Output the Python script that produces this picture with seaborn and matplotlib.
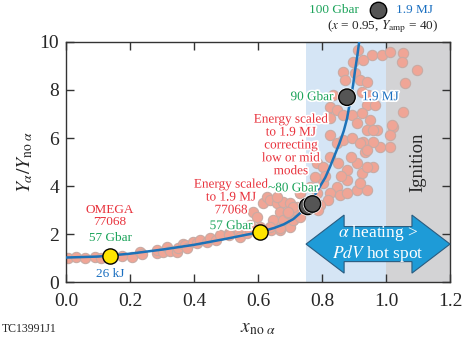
import numpy as np
import pandas as pd
import matplotlib
matplotlib.use("Agg")
import matplotlib.pyplot as plt
import matplotlib.patheffects as pe
from matplotlib.patches import Polygon
import seaborn as sns

# scatter of simulated implosions (x_no_alpha, Y_alpha / Y_no_alpha)
sim_x = [0.006, 0.03, 0.06, 0.09, 0.11, 0.175, 0.206, 0.23, 0.237, 0.284, 0.284, 0.303,
         0.316, 0.325, 0.347, 0.35, 0.366, 0.372, 0.378, 0.397, 0.41, 0.42, 0.44, 0.45,
         0.47, 0.48, 0.51, 0.51, 0.54, 0.544, 0.565, 0.575, 0.575, 0.584, 0.597, 0.606,
         0.616, 0.628, 0.6375, 0.64, 0.647, 0.659, 0.669, 0.67, 0.678, 0.694, 0.7, 0.709,
         0.722, 0.722, 0.731, 0.7, 0.678, 0.709, 0.6375, 0.669, 0.694, 0.659, 0.731,
         0.9125, 0.956, 0.9875, 1.0125, 1.053, 0.897, 0.928, 1.05, 0.866, 0.903, 1.097,
         0.872, 0.919, 0.941, 1.059, 0.834, 0.925, 0.944, 0.941, 0.966, 0.825, 0.847,
         0.866, 0.894, 0.925, 1.053, 0.825, 0.95, 0.909, 0.941, 0.972, 1.022, 1.0125,
         1.019, 1.0125, 0.981, 0.959, 0.959, 0.928, 0.934, 0.959, 0.825, 0.847, 0.866,
         0.894, 0.919, 0.941, 0.825, 0.784, 0.803, 0.85, 0.878, 0.909, 0.925, 0.878,
         0.847, 0.825, 0.856, 0.878, 0.909, 0.941, 0.819, 0.794, 0.778, 0.7625, 0.784,
         0.803, 0.731, 0.709, 0.694, 0.772, 0.7875, 0.941, 0.919, 0.81, 0.86, 0.89]
sim_y = [1.0, 1.05, 1.0, 1.05, 1.0, 1.1, 1.05, 1.25, 1.15, 1.2, 1.33, 1.25,
         1.46, 1.3, 1.25, 1.42, 1.6, 1.54, 1.4, 1.67, 1.63, 1.75, 1.67, 1.83,
         1.75, 1.96, 2.04, 1.96, 2.08, 1.875, 2.04, 2.17, 2.375, 2.92, 2.71, 2.29,
         3.29, 3.54, 3.42, 2.17, 2.58, 3.29, 2.92, 2.17, 3.33, 2.92, 3.29, 2.58,
         3.125, 2.875, 3.71, 2.29, 2.58, 2.58, 2.29, 2.25, 2.875, 3.54, 2.71,
         9.67, 9.46, 9.46, 9.58, 9.54, 9.17, 9.25, 9.17, 8.75, 8.71, 8.83,
         8.42, 8.42, 8.33, 8.29, 7.79, 7.92, 7.79, 7.375, 7.375, 7.29, 7.17,
         6.96, 6.96, 7.04, 7.08, 6.83, 6.75, 6.625, 6.33, 6.33, 6.46, 6.125,
         6.54, 5.625, 5.625, 5.83, 6.33, 5.83, 5.42, 4.79, 6.125, 5.79, 5.92,
         6.0, 5.79, 5.5, 5.21, 4.96, 4.79, 4.96, 4.67, 4.96, 4.54, 4.25,
         3.96, 3.71, 3.625, 3.71, 3.83, 3.83, 3.42, 3.21, 4.375, 3.96, 3.71,
         4.125, 3.71, 3.125, 2.92, 3.21, 3.0, 4.79, 4.125, 4.4, 4.4, 5.2]

# fitted amplification curve
fit_x = [0.0, 0.1, 0.2, 0.3, 0.4, 0.5, 0.575, 0.61, 0.65, 0.68, 0.71, 0.73, 0.76,
         0.79, 0.81, 0.825, 0.84, 0.855, 0.868, 0.878, 0.89, 0.897, 0.903, 0.91, 0.916]
fit_y = [1.02, 1.06, 1.18, 1.35, 1.55, 1.8, 2.0, 2.1, 2.25, 2.4, 2.62, 2.85, 3.25,
         3.9, 4.35, 4.8, 5.3, 5.8, 6.3, 6.8, 7.7, 8.2, 8.8, 9.4, 10.0]

# highlighted shots
omega_x = [0.1375, 0.606]
omega_y = [1.08, 2.08]
scaled_x = [0.755, 0.77, 0.878]
scaled_y = [3.15, 3.25, 7.7]

xticks = [0.0, 0.2, 0.4, 0.6, 0.8, 1.0, 1.2]
yticks = [0, 2, 4, 6, 8, 10]

sns.set_style("ticks")
plt.rcParams["font.family"] = ["Liberation Serif", "DejaVu Serif"]
plt.rcParams["mathtext.fontset"] = "stix"

RED = "#E8323C"
GREEN = "#1BA35A"
BLUE = "#1A6FC0"
FS = 9.5
halo = [pe.withStroke(linewidth=2.5, foreground="white")]

fig = plt.figure(figsize=(4.62, 3.55), dpi=100)
ax = fig.add_axes([0.1429, 0.2056, 0.8312, 0.6761])

ax.axvspan(0.75, 1.0, color="#D5E5F5", lw=0, zorder=0)
ax.axvspan(1.0, 1.2, color="#D3D3D5", lw=0, zorder=0)

sim = pd.DataFrame({"x": sim_x, "y": sim_y})
sns.scatterplot(data=sim, x="x", y="y", ax=ax, s=55, color="#F0A596",
                edgecolor="#C9ABA4", linewidth=0.8, zorder=2, legend=False)

fit = pd.DataFrame({"x": fit_x, "y": fit_y})
sns.lineplot(data=fit, x="x", y="y", ax=ax, color="#1C72B8", lw=1.8, zorder=3,
             sort=False)

ax.scatter(omega_x, omega_y, s=120, color="#FFE500", edgecolor="black", lw=1, zorder=4)
ax.scatter(scaled_x, scaled_y, s=140, color="#555555", edgecolor="black", lw=1, zorder=4,
           path_effects=[pe.withStroke(linewidth=2, foreground="white")])

# double arrow: alpha heating > PdV
x0, x1, yc = 0.75, 1.2, 1.58
hl, bw, hw = 0.119, 0.73, 1.21
arrow = Polygon([[x0, yc], [x0 + hl, yc + hw], [x0 + hl, yc + bw], [x1 - hl, yc + bw],
                 [x1 - hl, yc + hw], [x1, yc], [x1 - hl, yc - hw], [x1 - hl, yc - bw],
                 [x0 + hl, yc - bw], [x0 + hl, yc - hw]], closed=True,
                facecolor="#1E9BD7", edgecolor="#2A5C80", lw=0.8, zorder=5, clip_on=False)
ax.add_patch(arrow)
ax.text(0.975, 1.6, "$\\alpha$ heating >\n$PdV$ hot spot", color="white", fontsize=12.5,
        ha="center", va="center", linespacing=1.0, zorder=6)

ax.text(1.1, 5.0, "Ignition", rotation=90, fontsize=13.5, ha="center", va="center", zorder=6)

# annotations
ax.text(0.1375, 2.75, "OMEGA\n77068", color=RED, fontsize=FS, ha="center", va="center",
        linespacing=1.1)
ax.text(0.1375, 1.83, "57 Gbar", color=GREEN, fontsize=FS, ha="center", va="center")
ax.text(0.1375, 0.33, "26 kJ", color=BLUE, fontsize=FS, ha="center", va="center")

ax.text(0.516, 3.52, "Energy scaled\nto 1.9 MJ\n77068", color=RED, fontsize=FS,
        ha="center", va="center", linespacing=1.1, path_effects=halo, zorder=6)
ax.text(0.516, 2.33, "57 Gbar", color=GREEN, fontsize=FS, ha="center", va="center",
        path_effects=halo, zorder=6)

ax.text(0.703, 5.69, "Energy scaled\nto 1.9 MJ\ncorrecting\nlow or mid\nmodes", color=RED,
        fontsize=FS, ha="center", va="center", linespacing=1.1, path_effects=halo, zorder=6)
ax.text(0.71, 3.9, "~80 Gbar", color=GREEN, fontsize=FS, ha="center", va="center",
        path_effects=halo, zorder=6)

ax.text(0.836, 7.7, "90 Gbar", color=GREEN, fontsize=FS, ha="right", va="center",
        path_effects=halo, zorder=6)
ax.text(0.925, 7.7, "1.9 MJ", color=BLUE, fontsize=FS, ha="left", va="center",
        path_effects=halo, zorder=6)

# legend-like marker above the axes
ax.scatter([0.975], [11.33], s=140, color="#555555", edgecolor="black", lw=1, clip_on=False)
ax.text(0.915, 11.33, "100 Gbar", color=GREEN, fontsize=FS, ha="right", va="center")
ax.text(1.03, 11.33, "1.9 MJ", color=BLUE, fontsize=FS, ha="left", va="center")
ax.text(0.99, 10.62, "($x$ = 0.95, $Y_{\\mathrm{amp}}$ = 40)", fontsize=FS,
        ha="center", va="center")

ax.set_xlim(0, 1.2)
ax.set_ylim(0, 10)
ax.set_xticks(xticks)
ax.set_yticks(yticks)
ax.set_xticklabels([f"{t:.1f}" for t in xticks])
ax.tick_params(direction="in", length=6, width=1, labelsize=14, top=True, right=True,
               color="#333333")
ax.tick_params(axis="x", pad=8)
ax.tick_params(axis="y", pad=5)
for sp in ax.spines.values():
    sp.set_color("#333333")
    sp.set_linewidth(1)

ax.set_xlabel("$x_{\\mathrm{no}\\ \\alpha}$", fontsize=14, labelpad=7)
ax.set_ylabel("$Y_{\\alpha}/Y_{\\mathrm{no}\\ \\alpha}$", fontsize=14, labelpad=3)

fig.text(0.004, 0.066, "TC13991J1", fontsize=8.5)

fig.savefig("out.png", dpi=100)
